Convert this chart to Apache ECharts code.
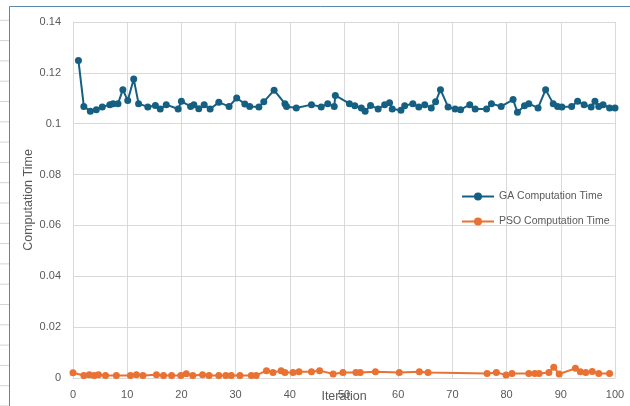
<!DOCTYPE html>
<html>
<head>
<meta charset="utf-8">
<script src="https://cdn.jsdelivr.net/npm/echarts@6/dist/echarts.min.js"></script>
<style>
  html, body { margin: 0; padding: 0; background: #fff; }
  #myChart { width: 630px; height: 406px; }
</style>
</head>
<body>
<div id="myChart"></div>
<script>
var gaIter = [1, 2, 3.2, 4.3, 5.4, 6.8, 7.4, 8.3, 9.2, 10.1, 11.2, 12.1, 13.8, 15.2, 16.1, 17.2, 19.4, 20, 21.7, 22.3,
  23.2, 24.2, 25.3, 26.9, 28.8, 30.2, 31.7, 32.6, 34.3, 35.2, 37.1, 39.1, 39.4, 41.2, 44, 45.8, 47, 48.2, 48.4, 51,
  52, 53.2, 53.9, 54.9, 56.3, 57.5, 58.4, 58.9, 60.5, 61.2, 62.7, 63.8, 64.9, 66.1, 66.9, 67.8, 69.2, 70.5, 71.5, 73.2,
  74.2, 76.3, 77.2, 79, 81.2, 82, 83.3, 84.1, 85.8, 87.2, 88.6, 89.4, 90.2, 92, 93.1, 94.3, 95.6, 96.3, 97, 97.8, 99, 100];
var gaTime = [0.1249, 0.1068, 0.1049, 0.1055, 0.1066, 0.1075, 0.1079, 0.1079, 0.1134, 0.1091, 0.1176, 0.1079, 0.1066, 0.1072, 0.1058, 0.1075, 0.1058, 0.1088, 0.1068, 0.1075,
  0.1059, 0.1075, 0.1058, 0.1084, 0.1068, 0.1101, 0.1078, 0.1068, 0.1066, 0.1086, 0.1132, 0.1079, 0.1068, 0.1062, 0.1075, 0.1066, 0.1079, 0.1068, 0.1111, 0.1079,
  0.1071, 0.1062, 0.1049, 0.1072, 0.1058, 0.1075, 0.1082, 0.1058, 0.1053, 0.1071, 0.1079, 0.1066, 0.1075, 0.1062, 0.1086, 0.1134, 0.1066, 0.1058, 0.1055, 0.1075,
  0.1058, 0.1058, 0.1079, 0.1068, 0.1095, 0.1045, 0.1071, 0.1079, 0.1062, 0.1134, 0.1079, 0.1068, 0.1066, 0.1068, 0.1088, 0.1075, 0.1066, 0.1088, 0.1068, 0.1075, 0.1062, 0.1062];

var psoIter = [0, 2, 3, 3.9, 4.7, 6, 8, 10.6, 11.7, 12.9, 15.4, 16.7, 18.2, 19.9, 20.9, 22.1, 23.9, 25.1, 26.9, 28.2,
  29.2, 30.8, 32.9, 33.8, 35.7, 36.9, 38.4, 39.1, 40.6, 41.7, 44, 45.5, 48, 49.8, 52.2, 53, 55.8, 60.2, 63.9, 65.5,
  76.4, 78.1, 79.9, 81, 84.1, 85.2, 86, 87.8, 88.7, 89.7, 92.7, 93.6, 94.6, 95.8, 97, 99];
var psoTime = [0.0021, 0.001, 0.0013, 0.001, 0.0013, 0.001, 0.001, 0.001, 0.0013, 0.001, 0.0013, 0.001, 0.001, 0.001, 0.0017, 0.001, 0.0013, 0.001, 0.001, 0.001,
  0.001, 0.001, 0.001, 0.001, 0.0029, 0.0022, 0.0029, 0.0022, 0.0022, 0.0025, 0.0025, 0.0029, 0.0016, 0.0022, 0.0022, 0.0022, 0.0025, 0.0022, 0.0025, 0.0022,
  0.0018, 0.0022, 0.0012, 0.0018, 0.0018, 0.0018, 0.0018, 0.0022, 0.0042, 0.0016, 0.0038, 0.0025, 0.0022, 0.0026, 0.0018, 0.0018];

var seriesNames = ['GA Computation Time', 'PSO Computation Time'];
var xTicks = { min: 0, max: 100, interval: 10 };
var yTicks = { min: 0, max: 0.14, interval: 0.02 };

function pairs(xs, ys) {
  return xs.map(function (x, i) { return [x, ys[i]]; });
}

// spreadsheet cells peeking out on the left of the chart frame
var sheet = [];
for (var r = 0; r < 20; r++) {
  sheet.push({
    type: 'line',
    shape: { x1: 0, y1: 20.3 * (r + 1), x2: 9, y2: 20.3 * (r + 1) },
    style: { stroke: '#d4d4d4', lineWidth: 1 }
  });
}
sheet.push({
  type: 'rect',
  shape: { x: 9.5, y: 6.5, width: 640, height: 420 },
  style: { fill: null, stroke: '#5a87ab', lineWidth: 1 }
});

var font = 'Liberation Sans, Arial, sans-serif';

var option = {
  animation: false,
  backgroundColor: '#fff',
  textStyle: { fontFamily: font },
  graphic: sheet,
  grid: { left: 73, right: 15, top: 22, bottom: 28, containLabel: false, outerBoundsMode: 'none' },
  legend: {
    orient: 'vertical',
    left: 456,
    top: 186,
    itemGap: 14,
    itemWidth: 32,
    itemHeight: 10,
    textStyle: { fontSize: 10.5, color: '#595959', fontFamily: font },
    data: seriesNames
  },
  xAxis: {
    type: 'value',
    min: xTicks.min,
    max: xTicks.max,
    interval: xTicks.interval,
    name: 'Iteration',
    nameLocation: 'middle',
    nameGap: 12,
    nameMoveOverlap: false,
    nameTextStyle: { fontSize: 12.5, color: '#595959' },
    axisLine: { show: true, lineStyle: { color: '#d9d9d9' } },
    axisTick: { show: false },
    axisLabel: { fontSize: 11, color: '#595959', margin: 11 },
    splitLine: { show: true, lineStyle: { color: '#d9d9d9' } }
  },
  yAxis: {
    type: 'value',
    min: yTicks.min,
    max: yTicks.max,
    interval: yTicks.interval,
    name: 'Computation Time',
    nameLocation: 'middle',
    nameGap: 38,
    nameMoveOverlap: false,
    nameTextStyle: { fontSize: 12.5, color: '#595959' },
    axisLine: { show: true, lineStyle: { color: '#d9d9d9' } },
    axisTick: { show: false },
    axisLabel: { fontSize: 11, color: '#595959', margin: 12 },
    splitLine: { show: true, lineStyle: { color: '#d9d9d9' } }
  },
  series: [
    {
      name: seriesNames[0],
      type: 'line',
      data: pairs(gaIter, gaTime),
      symbol: 'circle',
      symbolSize: 7,
      color: '#156082',
      lineStyle: { width: 2 }
    },
    {
      name: seriesNames[1],
      type: 'line',
      data: pairs(psoIter, psoTime),
      symbol: 'circle',
      symbolSize: 7,
      color: '#E97132',
      lineStyle: { width: 2 }
    }
  ]
};

var myChart = echarts.init(document.getElementById('myChart'));
myChart.setOption(option);
</script>
</body>
</html>
